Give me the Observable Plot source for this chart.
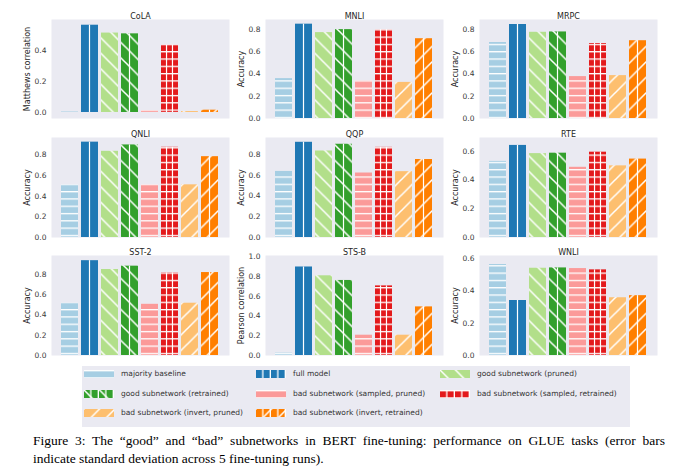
<!DOCTYPE html>
<html><head><meta charset="utf-8">
<script src="https://cdn.jsdelivr.net/npm/d3@7"></script>
<script src="https://cdn.jsdelivr.net/npm/@observablehq/plot@0.6"></script>
<style>
body{margin:0;background:#fff;}
#fig{position:relative;width:680px;height:471px;overflow:hidden;font-family:"DejaVu Sans",sans-serif;background:#fff;}
.panel{position:absolute;}
#legend{position:absolute;left:82px;top:366px;width:548px;height:61px;background:#EAEAF2;}
.item{position:absolute;height:10px;font-size:7.5px;color:#333;white-space:nowrap;}
.item svg{position:absolute;left:0;top:1px;}
.item span{position:absolute;left:37px;top:0;line-height:10px;}
#caption{position:absolute;left:33px;top:432px;width:632px;font-family:"Liberation Serif","Times New Roman",serif;font-size:13.5px;line-height:18px;color:#000;}
#cap1{text-align:justify;text-align-last:justify;white-space:nowrap;}
#cap2{text-align:left;white-space:nowrap;}
</style></head><body>
<svg width="0" height="0" style="position:absolute">
<defs>
<pattern id="p0" patternUnits="userSpaceOnUse" width="10" height="7.3"><rect width="10" height="7.3" fill="#a6cee3"/><rect y="0" width="10" height="1.3" fill="#fff"/></pattern>
<pattern id="p1" patternUnits="userSpaceOnUse" width="10" height="10"><rect width="10" height="10" fill="#1f78b4"/></pattern>
<pattern id="p2" patternUnits="userSpaceOnUse" width="15.5" height="15.5"><rect width="15.5" height="15.5" fill="#b2df8a"/><path d="M-2,-2L17.5,17.5M13.5,-2L17.5,2M-2,13.5L2,17.5" stroke="#fff" stroke-width="1.5"/></pattern>
<pattern id="p3" patternUnits="userSpaceOnUse" width="15.5" height="15.5"><rect width="15.5" height="15.5" fill="#33a02c"/><path d="M-2,-2L17.5,17.5M13.5,-2L17.5,2M-2,13.5L2,17.5" stroke="#fff" stroke-width="1.5"/></pattern>
<pattern id="p4" patternUnits="userSpaceOnUse" width="10" height="7.3"><rect width="10" height="7.3" fill="#fb9a99"/><rect y="0" width="10" height="1.3" fill="#fff"/></pattern>
<pattern id="p5" patternUnits="userSpaceOnUse" width="10" height="7.3"><rect width="10" height="7.3" fill="#e31a1c"/><rect y="0" width="10" height="1.3" fill="#fff"/></pattern>
<pattern id="p6" patternUnits="userSpaceOnUse" width="15.5" height="15.5"><rect width="15.5" height="15.5" fill="#fdbf6f"/><path d="M-2,17.5L17.5,-2M-2,2L2,-2M13.5,17.5L17.5,13.5" stroke="#fff" stroke-width="1.5"/></pattern>
<pattern id="p7" patternUnits="userSpaceOnUse" width="15.5" height="15.5"><rect width="15.5" height="15.5" fill="#ff7f00"/><path d="M-2,17.5L17.5,-2M-2,2L2,-2M13.5,17.5L17.5,13.5" stroke="#fff" stroke-width="1.5"/></pattern>
<pattern id="v1" patternUnits="objectBoundingBox" patternContentUnits="objectBoundingBox" width="1" height="1"><rect x="0.465" y="0" width="0.07" height="1" fill="#fff"/></pattern>
<pattern id="v2" patternUnits="objectBoundingBox" patternContentUnits="objectBoundingBox" width="1" height="1"><rect x="0.29" y="0" width="0.07" height="1" fill="#fff"/><rect x="0.64" y="0" width="0.07" height="1" fill="#fff"/></pattern>
<pattern id="lv" patternUnits="userSpaceOnUse" width="7.5" height="10"><rect x="6.2" width="1.3" height="10" fill="#fff"/></pattern>
</defs></svg>
<div id="fig"><div id="legend"></div><div id="caption"><div id="cap1"></div><div id="cap2"></div></div></div>
<script>
const tasks = ["CoLA", "MNLI", "MRPC", "QNLI", "QQP", "RTE", "SST-2", "STS-B", "WNLI"];
const models = ["majority baseline", "full model", "good subnetwork (pruned)", "good subnetwork (retrained)",
  "bad subnetwork (sampled, pruned)", "bad subnetwork (sampled, retrained)", "bad subnetwork (invert, pruned)", "bad subnetwork (invert, retrained)"];
const colors = ["#a6cee3", "#1f78b4", "#b2df8a", "#33a02c", "#fb9a99", "#e31a1c", "#fdbf6f", "#ff7f00"];
const yLabels = ["Matthews correlation", "Accuracy", "Accuracy", "Accuracy", "Accuracy", "Accuracy", "Accuracy", "Pearson correlation", "Accuracy"];

const cola = [0.004, 0.566, 0.515, 0.510, 0.012, 0.437, 0.006, 0.015];
const mnli = [0.359, 0.849, 0.773, 0.800, 0.338, 0.800, 0.325, 0.718];
const mrpc = [0.684, 0.846, 0.776, 0.779, 0.377, 0.675, 0.386, 0.700];
const qnli = [0.511, 0.925, 0.836, 0.898, 0.511, 0.875, 0.511, 0.784];
const qqp  = [0.637, 0.917, 0.833, 0.898, 0.621, 0.868, 0.634, 0.751];
const rte  = [0.529, 0.640, 0.583, 0.586, 0.488, 0.593, 0.498, 0.545];
const sst2 = [0.515, 0.934, 0.847, 0.880, 0.505, 0.813, 0.515, 0.817];
const stsb = [0.024, 0.894, 0.805, 0.758, 0.205, 0.703, 0.205, 0.491];
const wnli = [0.564, 0.341, 0.541, 0.543, 0.539, 0.531, 0.358, 0.371];
const allValues = [cola, mnli, mrpc, qnli, qqp, rte, sst2, stsb, wnli];

const yTicks = [
  [0, 0.2, 0.4], [0, 0.2, 0.4, 0.6, 0.8], [0, 0.2, 0.4, 0.6, 0.8],
  [0, 0.2, 0.4, 0.6, 0.8], [0, 0.2, 0.4, 0.6, 0.8], [0, 0.2, 0.4, 0.6],
  [0, 0.2, 0.4, 0.6, 0.8], [0, 0.2, 0.4, 0.6, 0.8, 1.0], [0, 0.2, 0.4, 0.6]
];
const yDomains = [[-0.039, 0.603], [0, 0.891], [0, 0.891], [0, 0.97], [0, 0.963], [0, 0.695], [0, 0.985], [0, 1.01], [0, 0.62]];

const captionLines = [
  "Figure 3: The \u201cgood\u201d and \u201cbad\u201d subnetworks in BERT fine-tuning: performance on GLUE tasks (error bars",
  "indicate standard deviation across 5 fine-tuning runs)."
];

// overlay patterns for vertical hatch components
const overlay = [null, "v1", null, "v1", null, "v2", null, "v1"];

const rows = tasks.flatMap((t, i) => models.map((m, j) => ({task: t, model: m, idx: j, value: allValues[i][j]})));

const fig = document.getElementById("fig");
const colLeft = [1, 215, 429];
const rowTop = [0, 118, 236];
const rowH = [99, 100, 100];

tasks.forEach((t, i) => {
  const r = Math.floor(i / 3), c = i % 3;
  const data = rows.filter(d => d.task === t);
  const chart = Plot.plot({
    width: 230,
    height: 19 + rowH[r] + 2,
    marginLeft: 50, marginRight: 2, marginTop: 19, marginBottom: 2,
    style: {fontFamily: "DejaVu Sans", fontSize: "7.5px", color: "#3a3a3a", background: "transparent", overflow: "visible"},
    x: {domain: models, paddingInner: 0.13, paddingOuter: 0.38, axis: null},
    y: {domain: yDomains[i], ticks: yTicks[i], tickSize: 0, tickPadding: 5, tickFormat: d3.format(".1f"), label: null},
    color: {type: "identity"},
    marks: [
      Plot.frame({fill: "#EAEAF2", stroke: "none"}),
      Plot.barY(data, {x: "model", y: "value", fill: d => `url(#p${d.idx})`}),
      Plot.barY(data.filter(d => overlay[d.idx]), {x: "model", y: "value", fill: d => `url(#${overlay[d.idx]})`}),
      Plot.text([t], {text: d => d, frameAnchor: "top", textAnchor: "middle", dy: -6, fontSize: 8, fontWeight: "normal", fill: "#262626"}),
      Plot.text([yLabels[i]], {text: d => d, frameAnchor: "left", textAnchor: "middle", rotate: -90, dx: -24.5, fontSize: 8, fontWeight: "normal", fill: "#262626"})
    ]
  });
  chart.classList.add("panel");
  chart.style.left = colLeft[c] + "px";
  chart.style.top = rowTop[r] + "px";
  fig.appendChild(chart);
});

// legend
const legend = document.getElementById("legend");
const legCols = [2, 174, 358];
const legRows = [3, 22.5, 42];
models.forEach((m, j) => {
  const item = document.createElement("div");
  item.className = "item";
  item.style.left = legCols[j % 3] + "px";
  item.style.top = legRows[Math.floor(j / 3)] + "px";
  const ov = overlay[j] ? `<rect width="30" height="8" fill="url(#lv)"/>` : "";
  item.innerHTML = `<svg width="30" height="8"><rect width="30" height="8" fill="url(#p${j})"/>${ov}</svg><span>${m}</span>`;
  legend.appendChild(item);
});

document.getElementById("cap1").textContent = captionLines[0];
document.getElementById("cap2").textContent = captionLines[1];
</script>
</body></html>
